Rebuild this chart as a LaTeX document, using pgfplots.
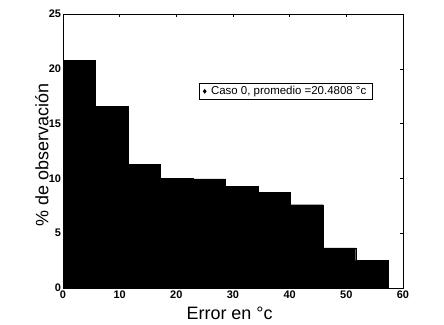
\documentclass[border=0pt]{standalone}
\usepackage{pgfplots}
\pgfplotsset{compat=1.18}
\usepackage{fontspec}
\setmainfont{Liberation Sans}
\begin{document}
\begin{tikzpicture}
\useasboundingbox (-63bp,-37bp) rectangle (381bp,288bp);
\begin{axis}[
  at={(0,0)}, anchor=south west,
  scale only axis, width=340bp, height=274bp,
  xmin=0, xmax=60, ymin=0, ymax=25,
  xtick={0,10,20,30,40,50,60},
  ytick={0,5,10,15,20,25},
  tick align=inside,
  major tick length=3pt,
  axis line style={line width=0.9pt},
  tick style={black, line width=0.6pt},
  tick label style={font=\fontsize{11}{12}\selectfont\bfseries},
  xticklabel style={yshift=1pt},
  yticklabel style={xshift=1.5pt},
  /pgf/number format/assume math mode=true,
  xlabel={Error en \textdegree c},
  ylabel={\% de observación},
  label style={font=\fontsize{18}{20}\selectfont},
  xlabel style={at={(axis description cs:0.49,-0.091)}, anchor=center},
  ylabel style={at={(axis description cs:-0.062,0.485)}, anchor=center},
  legend style={at={(0.4,0.748)}, anchor=north west, draw=black, line width=0.8pt,
    font=\fontsize{11.5}{12}\selectfont, inner xsep=4pt, inner ysep=1pt, row sep=0pt},
  legend cell align=left,
]
\addplot[ybar interval, fill=black, draw=black, forget plot] coordinates {
(0,20.8) (5.74,16.6) (11.48,11.3) (17.22,10.0) (22.96,9.95) (28.7,9.27) (34.44,8.75) (40.18,7.6) (45.92,3.65) (51.66,2.5) (57.4,2.5)
};
\addlegendimage{only marks, mark=diamond*, mark size=1.8pt, black}
\addlegendentry{\hspace{3pt}Caso 0, promedio =20.4808 \textdegree c}
\end{axis}
\end{tikzpicture}
\end{document}
